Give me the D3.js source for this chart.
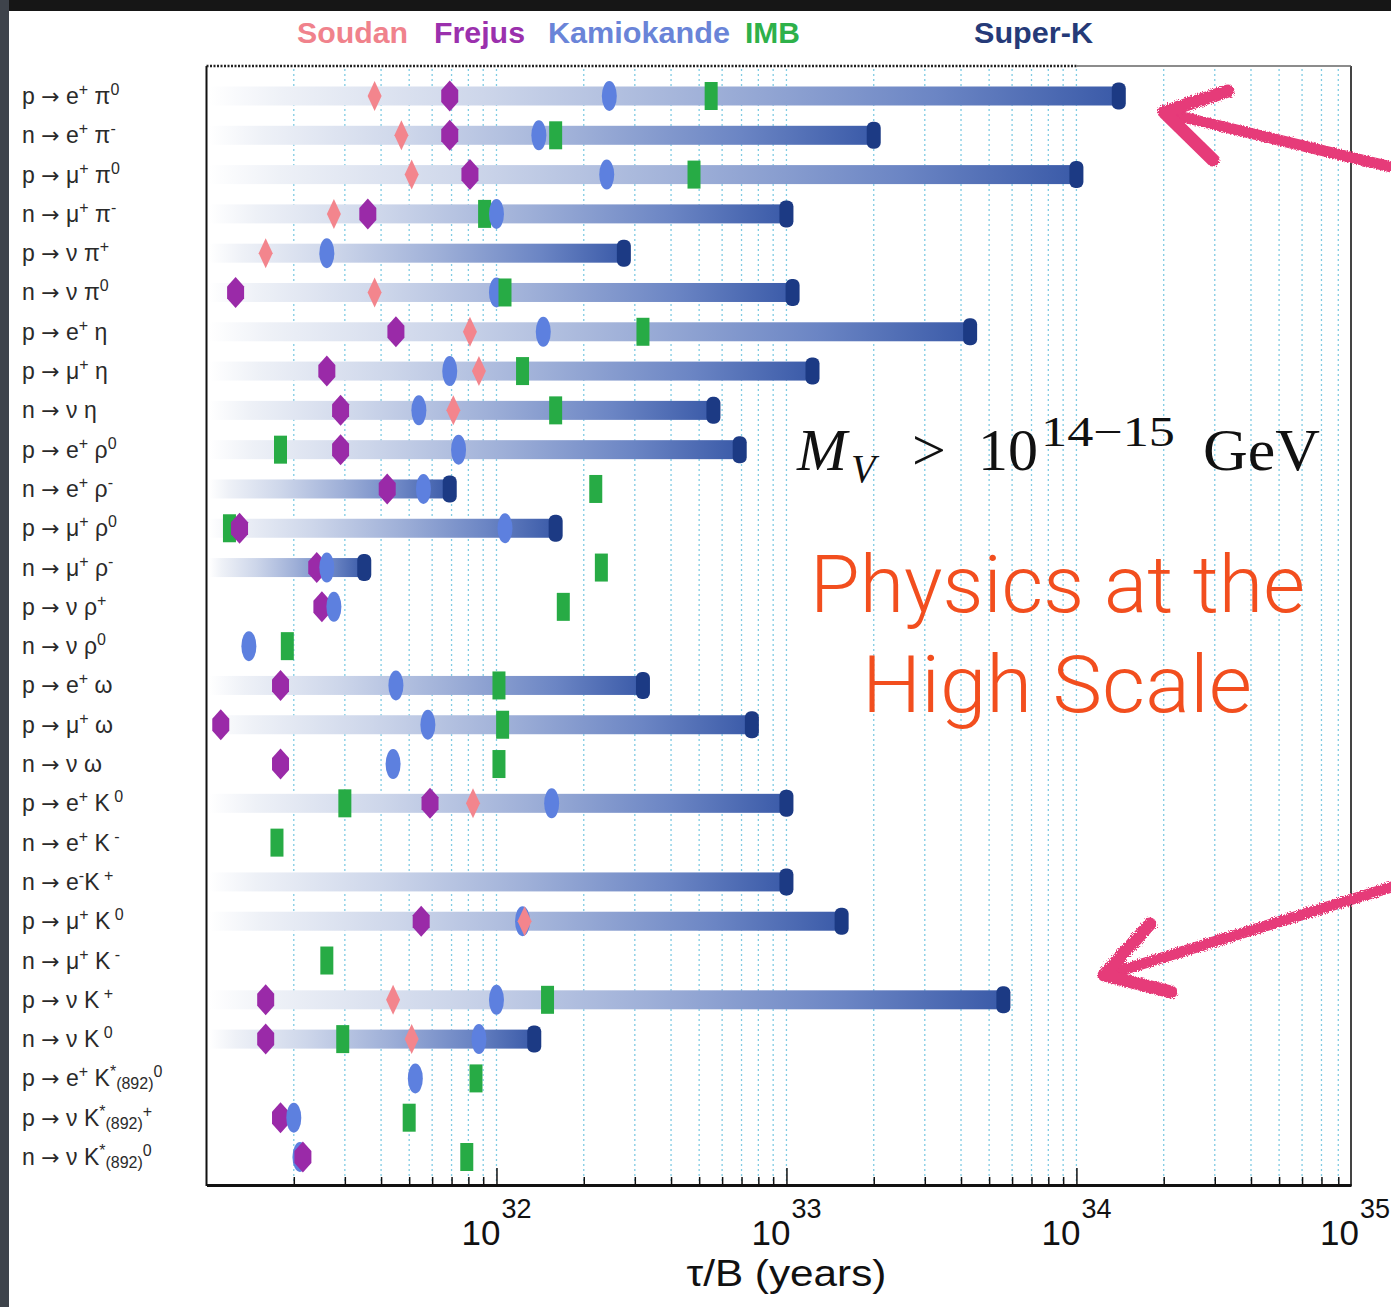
<!DOCTYPE html>
<html lang="en">
<head>
<meta charset="UTF-8">
<title>Nucleon decay limits</title>
<style>
  body { margin: 0; background: #fff; }
  svg { display: block; }
  .lbl { font-family: "Liberation Sans", Arial, sans-serif; font-size: 23px; fill: #2a2a2a; }
  .legend text { font-family: "Liberation Sans", Arial, sans-serif; font-weight: bold; font-size: 29px; }
  .ticklbl { font-family: "Liberation Sans", Arial, sans-serif; fill: #111; }
</style>
</head>
<body>
<div id="chart"></div>
<script src="https://cdnjs.cloudflare.com/ajax/libs/d3/7.8.5/d3.min.js"></script>
<script>
// decay modes, ^{..} = superscript, _{..} = small text
var modes = [
  "p → e^{+} π^{0}", "n → e^{+} π^{-}", "p → μ^{+} π^{0}", "n → μ^{+} π^{-}",
  "p → ν π^{+}", "n → ν π^{0}", "p → e^{+} η", "p → μ^{+} η", "n → ν η",
  "p → e^{+} ρ^{0}", "n → e^{+} ρ^{-}", "p → μ^{+} ρ^{0}", "n → μ^{+} ρ^{-}",
  "p → ν ρ^{+}", "n → ν ρ^{0}", "p → e^{+} ω", "p → μ^{+} ω", "n → ν ω",
  "p → e^{+} K^{ 0}", "n → e^{+} K^{ -}", "n → e^{-}K^{ +}", "p → μ^{+} K^{ 0}",
  "n → μ^{+} K^{ -}", "p → ν K^{ +}", "n → ν K^{ 0}",
  "p → e^{+} K^{*}_{(892)}^{0}", "p → ν K^{*}_{(892)}^{+}", "n → ν K^{*}_{(892)}^{0}"
];

// lower limits on tau/B in years, null = no result
var soudan = [3.8e31, 4.7e31, 5.1e31, 2.75e31, 1.6e31, 3.8e31, 8.1e31, 8.7e31, 7.1e31, null,
  null, null, null, null, null, null, null, null, 8.3e31, null,
  null, 1.25e32, null, 4.4e31, 5.1e31, null, null, null];
var frejus = [6.9e31, 6.9e31, 8.1e31, 3.6e31, null, 1.26e31, 4.5e31, 2.6e31, 2.9e31, 2.9e31,
  4.2e31, 1.3e31, 2.4e31, 2.5e31, null, 1.8e31, 1.12e31, 1.8e31, 5.9e31, null,
  null, 5.5e31, null, 1.6e31, 1.6e31, null, 1.8e31, 2.15e31];
var kamiokande = [2.45e32, 1.4e32, 2.4e32, 1.0e32, 2.6e31, 1.0e32, 1.45e32, 6.9e31, 5.4e31, 7.4e31,
  5.6e31, 1.07e32, 2.6e31, 2.75e31, 1.4e31, 4.5e31, 5.8e31, 4.4e31, 1.55e32, null,
  null, 1.23e32, null, 1.0e32, 8.7e31, 5.25e31, 2.0e31, 2.1e31];
var imb = [5.5e32, 1.6e32, 4.8e32, 9.1e31, null, 1.07e32, 3.2e32, 1.23e32, 1.6e32, 1.8e31,
  2.2e32, 1.2e31, 2.3e32, 1.7e32, 1.9e31, 1.02e32, 1.05e32, 1.02e32, 3.0e31, 1.75e31,
  null, null, 2.6e31, 1.5e32, 2.95e31, 8.5e31, 5.0e31, 7.9e31];
var superK = [1.4e34, 2.0e33, 1.0e34, 1.0e33, 2.75e32, 1.05e33, 4.3e33, 1.23e33, 5.6e32, 6.9e32,
  6.9e31, 1.6e32, 3.5e31, null, null, 3.2e32, 7.6e32, null, 1.0e33, null,
  1.0e33, 1.55e33, null, 5.6e33, 1.35e32, null, null, null];

var xMin = 1e31, xMax = 8.85e34;
var majorTicks = [1e32, 1e33, 1e34, 1e35];

var W = 1391, H = 1307;
var pL = 206.5, pR = 1351, pT = 66, pB = 1185;

var svg = d3.select("#chart").append("svg")
  .attr("width", W).attr("height", H)
  .attr("xmlns", "http://www.w3.org/2000/svg");

var defs = svg.append("defs");
var grad = defs.append("linearGradient").attr("id", "barGrad")
  .attr("x1", 0).attr("x2", 1).attr("y1", 0).attr("y2", 0);
[[0, "#ffffff"], [0.08, "#eef1f7"], [0.3, "#cdd6ea"], [0.55, "#9fb0d8"], [0.8, "#6b85c4"], [1, "#3a5aa8"]]
  .forEach(s => grad.append("stop").attr("offset", s[0]).attr("stop-color", s[1]));

var rough = defs.append("filter").attr("id", "rough")
  .attr("x", "-10%").attr("y", "-10%").attr("width", "120%").attr("height", "120%");
rough.append("feTurbulence").attr("type", "fractalNoise").attr("baseFrequency", 0.8)
  .attr("numOctaves", 2).attr("result", "n");
rough.append("feDisplacementMap").attr("in", "SourceGraphic").attr("in2", "n").attr("scale", 5);

// dark frame of the slide
svg.append("rect").attr("x", 0).attr("y", 0).attr("width", W).attr("height", 11).attr("fill", "#161616");
svg.append("rect").attr("x", 0).attr("y", 0).attr("width", 9).attr("height", H).attr("fill", "#3e434b");

var x = d3.scaleLog().domain([xMin, xMax]).range([pL, pR]);
var y = d3.scalePoint().domain(d3.range(modes.length)).range([96, 1157]);

var tickVals = [];
for (var e = 31; e <= 34; e++) {
  for (var k = 1; k <= 9; k++) {
    var v = k * Math.pow(10, e);
    if (v > xMin && v <= xMax) tickVals.push(v);
  }
}
var isMajor = v => Math.abs(Math.log10(v) - Math.round(Math.log10(v))) < 1e-9;

// dotted grid
svg.append("g").selectAll("line").data(tickVals).enter().append("line")
  .attr("x1", d => x(d)).attr("x2", d => x(d))
  .attr("y1", pT + 3).attr("y2", pB)
  .attr("stroke", "#7fcbe3").attr("stroke-width", 1.3)
  .attr("stroke-dasharray", "2,3");

// bars up to the Super-K limit
var bars = superK.map((v, i) => ({ v: v, row: i })).filter(d => d.v != null);
svg.append("g").selectAll("rect").data(bars).enter().append("rect")
  .attr("x", pL + 3).attr("y", d => y(d.row) - 9.5)
  .attr("width", d => x(d.v) - pL - 3).attr("height", 19)
  .attr("fill", "url(#barGrad)");
svg.append("g").selectAll("rect").data(bars).enter().append("rect")
  .attr("x", d => x(d.v) - 7).attr("y", d => y(d.row) - 13.5)
  .attr("width", 14).attr("height", 27).attr("rx", 6)
  .attr("fill", "#1c3a84");

// markers
var shapes = {
  diamond: "M0,-15 L7,0 L0,15 L-7,0 Z",
  hexagon: "M0,-15.5 L8.5,-6 L8.5,6 L0,15.5 L-8.5,6 L-8.5,-6 Z",
  ellipse: "M-7.5,0 A7.5,15 0 1,0 7.5,0 A7.5,15 0 1,0 -7.5,0 Z",
  rect: "M-6.5,-14 H6.5 V14 H-6.5 Z"
};
var experiments = [
  { name: "Soudan", values: soudan, color: "#f3858d", shape: "diamond" },
  { name: "Frejus", values: frejus, color: "#9a2aa8", shape: "hexagon" },
  { name: "Kamiokande", values: kamiokande, color: "#5d80df", shape: "ellipse" },
  { name: "IMB", values: imb, color: "#27ab45", shape: "rect" }
];
var marks = [];
experiments.forEach(ex => ex.values.forEach((v, i) => {
  if (v != null) marks.push({ ex: ex, row: i, v: v });
}));
marks.sort((a, b) => a.v - b.v);
svg.append("g").selectAll("path").data(marks).enter().append("path")
  .attr("d", d => shapes[d.ex.shape])
  .attr("transform", d => `translate(${x(d.v)},${y(d.row)})`)
  .attr("fill", d => d.ex.color);

// frame
svg.append("line").attr("x1", pL).attr("x2", pL).attr("y1", pT).attr("y2", pB + 1)
  .attr("stroke", "#111").attr("stroke-width", 2);
svg.append("line").attr("x1", pR).attr("x2", pR).attr("y1", pT).attr("y2", pB + 1)
  .attr("stroke", "#444").attr("stroke-width", 2);
svg.append("line").attr("x1", pL).attr("x2", x(1e34)).attr("y1", pT).attr("y2", pT)
  .attr("stroke", "#222").attr("stroke-width", 2.5).attr("stroke-dasharray", "2,1.5");
svg.append("line").attr("x1", x(1e34)).attr("x2", pR).attr("y1", pT).attr("y2", pT)
  .attr("stroke", "#666").attr("stroke-width", 1.5);

// x axis
var axis = svg.append("g").attr("transform", `translate(0,${pB})`)
  .call(d3.axisBottom(x).tickValues(tickVals).tickSizeInner(-8).tickSizeOuter(0).tickFormat(""));
axis.select(".domain").attr("stroke", "#111").attr("stroke-width", 3);
axis.selectAll(".tick line").attr("stroke", "#111").attr("stroke-width", 1.5)
  .filter(d => isMajor(d)).attr("y2", -17);

majorTicks.forEach(v => {
  var lx = Math.min(x(v), pR + 4);
  svg.append("text").attr("class", "ticklbl").attr("x", lx + 4).attr("y", 1245)
    .attr("text-anchor", "end").attr("font-size", 35).text("10");
  svg.append("text").attr("class", "ticklbl").attr("x", lx + 5).attr("y", 1218)
    .attr("font-size", 27).text(Math.round(Math.log10(v)));
});
svg.append("text").attr("class", "ticklbl").attr("x", x(1e33)).attr("y", 1286)
  .attr("text-anchor", "middle").attr("font-size", 37)
  .attr("textLength", 200).attr("lengthAdjust", "spacingAndGlyphs").text("τ/B (years)");

// row labels
function richLabel(sel, str) {
  var parts = str.match(/\^\{[^}]*\}|_\{[^}]*\}|[^^_]+/g);
  var off = 0;
  parts.forEach(p => {
    var shift = 0, size = 23, txt = p;
    if (p[0] === "^") { shift = -9; size = 16; txt = p.slice(2, -1); }
    else if (p[0] === "_") { shift = 3; size = 16; txt = p.slice(2, -1); }
    var chunks = shift === 0 ? txt.split(/(→)/) : [txt];
    chunks.forEach((c, j) => {
      if (!c) return;
      var ts = sel.append("tspan").attr("font-size", size)
        .attr("xml:space", "preserve").text(c);
      if (j === 0 || shift !== 0) ts.attr("dy", shift - off);
      if (c === "→") ts.attr("font-family", '"DejaVu Sans", sans-serif').attr("font-size", 22);
      off = shift;
    });
  });
}
svg.append("g").selectAll("text").data(modes).enter().append("text")
  .attr("class", "lbl").attr("x", 22).attr("y", (d, i) => y(i) + 8)
  .each(function (d) { richLabel(d3.select(this), d); });

// legend
var legendNames = ["Soudan", "Frejus", "Kamiokande", "IMB", "Super-K"];
var legendColors = ["#f0828c", "#9b30ad", "#6a84d8", "#2eb14a", "#253a78"];
var legendX = [297, 434, 548, 745, 974];
var legendW = [111, 91, 182, 55, 119];
svg.append("g").attr("class", "legend").selectAll("text").data(legendNames).enter().append("text")
  .attr("x", (d, i) => legendX[i]).attr("y", 43)
  .attr("textLength", (d, i) => legendW[i]).attr("lengthAdjust", "spacingAndGlyphs")
  .attr("fill", (d, i) => legendColors[i]).text(d => d);

// annotations
var serif = '"Liberation Serif", "DejaVu Serif", serif';
var ann = svg.append("g").attr("font-family", serif).attr("fill", "#111");
ann.append("text").attr("x", 797).attr("y", 470).attr("font-size", 60).attr("font-style", "italic").text("M");
ann.append("text").attr("x", 851).attr("y", 482).attr("font-size", 40).attr("font-style", "italic").text("V");
ann.append("text").attr("x", 912).attr("y", 470).attr("font-size", 60).text(">");
ann.append("text").attr("x", 978).attr("y", 470).attr("font-size", 60).text("10");
ann.append("text").attr("x", 1041).attr("y", 446).attr("font-size", 42)
  .attr("textLength", 134).attr("lengthAdjust", "spacingAndGlyphs").text("14−15");
ann.append("text").attr("x", 1203).attr("y", 470).attr("font-size", 60)
  .attr("textLength", 117).attr("lengthAdjust", "spacingAndGlyphs").text("GeV");

var sans = 'Roboto, Lato, "Liberation Sans", sans-serif';
svg.append("text").attr("x", 810).attr("y", 612).attr("font-family", sans).attr("font-weight", 300)
  .attr("font-size", 79).attr("fill", "#f24e1e")
  .attr("textLength", 495).attr("lengthAdjust", "spacingAndGlyphs").text("Physics at the");
svg.append("text").attr("x", 862).attr("y", 712).attr("font-family", sans).attr("font-weight", 300)
  .attr("font-size", 79).attr("fill", "#f24e1e")
  .attr("textLength", 390).attr("lengthAdjust", "spacingAndGlyphs").text("High Scale");

// hand drawn arrows
var arrows = svg.append("g").attr("fill", "none").attr("stroke", "#e63a79")
  .attr("stroke-linecap", "round").attr("stroke-linejoin", "round").attr("filter", "url(#rough)");
arrows.append("path").attr("stroke-width", 11).attr("d", "M1395,168 L1166,113");
arrows.append("path").attr("stroke-width", 13).attr("d", "M1228,91 L1164,112 L1213,160");
arrows.append("path").attr("stroke-width", 11).attr("d", "M1395,886 L1106,975");
arrows.append("path").attr("stroke-width", 13).attr("d", "M1150,924 L1104,975 L1171,992");
</script>
</body>
</html>
